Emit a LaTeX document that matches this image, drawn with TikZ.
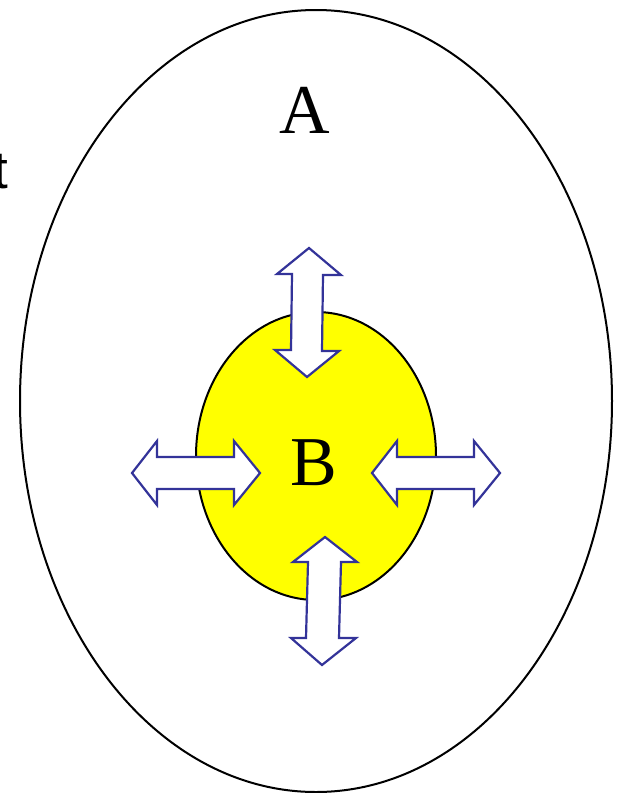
\documentclass[tikz,border=0pt]{standalone}
\usepackage{fontspec}
\setmainfont{Liberation Serif}
\newfontfamily\sansf{Liberation Sans}
\definecolor{arrowblue}{RGB}{51,51,153}
\definecolor{byellow}{RGB}{255,255,0}
\begin{document}
\begin{tikzpicture}[x=1pt,y=-1pt,
  outerell/.style={draw=black,line width=2pt},
  innerell/.style={draw=black,fill=byellow,line width=2pt},
  blockarrow/.style={draw=arrowblue,fill=white,line width=2.2pt,line join=miter},
  bigletter/.style={inner sep=0pt,anchor=base,font=\fontsize{70}{84}\selectfont}]
\useasboundingbox (0,0) rectangle (622,793);
\draw[outerell] (316,401) ellipse [x radius=296, y radius=391];
\draw[innerell] (316,456) ellipse [x radius=120, y radius=144];
% top arrow
\draw[blockarrow] (309,248) -- (341,275) -- (323,275) -- (322,351) -- (339,351) -- (307,377)
  -- (275,350) -- (291,350) -- (292,274) -- (277,274) -- cycle;
% left arrow
\draw[blockarrow] (132,473) -- (157,441) -- (157,457) -- (234,457) -- (234,441) -- (260,473)
  -- (234,505) -- (234,489) -- (157,489) -- (157,505) -- cycle;
% right arrow
\draw[blockarrow] (372,473) -- (397,441) -- (397,457) -- (474,457) -- (474,441) -- (500,473)
  -- (474,505) -- (474,489) -- (397,489) -- (397,505) -- cycle;
% bottom arrow
\draw[blockarrow] (325,537) -- (357,562) -- (341,562) -- (339,638) -- (356,638) -- (322,665)
  -- (291,638) -- (306,638) -- (308,562) -- (293,562) -- cycle;
\node[bigletter] (A) at (305,133) {A};
\node[bigletter] (B) at (314,485) {B};
\node[inner sep=0pt,anchor=base east,font=\sansf\fontsize{53}{60}\selectfont] (t) at (8,188) {t};
\end{tikzpicture}
\end{document}
